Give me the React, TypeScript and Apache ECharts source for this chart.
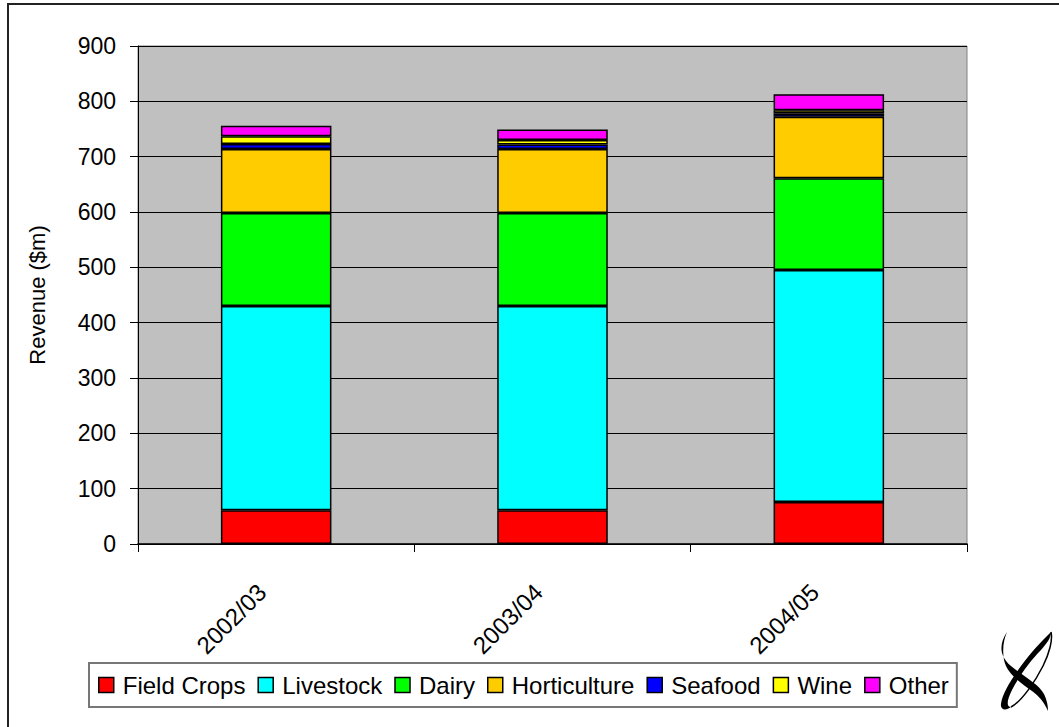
import React, { useEffect, useRef } from "react";
import * as echarts from "echarts";

const categories = ["2002/03", "2003/04", "2004/05"];
const fieldCrops = [61, 61, 76];
const livestock = [369, 369, 419];
const dairy = [168, 168, 166];
const horticulture = [116, 116, 111];
const seafood = [9, 8, 6];
const wine = [14, 8, 6];
const other = [19, 19, 29];

const seriesNames = ["Field Crops", "Livestock", "Dairy", "Horticulture", "Seafood", "Wine", "Other"];
const seriesValues = [fieldCrops, livestock, dairy, horticulture, seafood, wine, other];
const seriesColors = ["#ff0000", "#00ffff", "#00ff00", "#ffcc00", "#0000ff", "#ffff00", "#ff00ff"];

const FONT = "'Liberation Sans', Arial, sans-serif";

let registered = false;
function registerLogo() {
  if (registered) return;
  registered = true;
  echarts.graphic.registerShape(
    "logoA",
    echarts.graphic.extendPath(
      "M8,2 C0,14 0,26 12,36 C24,46 40,54 45,64 C48,70 49,76 49,81 C45,72 40,66 33,61 C22,53 8,44 5,30 C3,18 5,9 8,2 Z",
      {}
    )
  );
  echarts.graphic.registerShape(
    "logoB",
    echarts.graphic.extendPath(
      "M52,2 C42,12 32,22 22,36 C12,50 3,64 2,74 C1,80 7,81 12,77 C7,77 8,70 13,60 C20,46 32,30 42,20 C48,13 52,8 52,2 Z",
      {}
    )
  );
  echarts.graphic.registerShape(
    "logoC",
    echarts.graphic.extendPath("M12,77 C22,72 36,52 44,36 C50,24 54,10 52,2", {})
  );
}

export default function App() {
  const ref = useRef<HTMLDivElement>(null);
  useEffect(() => {
    if (!ref.current) return;
    registerLogo();
    const chart = echarts.init(ref.current, undefined, { renderer: "svg" });
    chart.setOption({
      animation: false,
      backgroundColor: "#ffffff",
      textStyle: { fontFamily: FONT },
      grid: {
        left: 138,
        right: 92,
        top: 46,
        bottom: 183,
        show: true,
        backgroundColor: "#c0c0c0",
        borderColor: "#808080",
        borderWidth: 1,
      },
      legend: {
        left: 89,
        top: 663,
        orient: "horizontal",
        itemWidth: 15,
        itemHeight: 15,
        itemGap: 12,
        padding: [10, 8, 10, 9],
        borderColor: "#777777",
        borderWidth: 2,
        icon: "rect",
        data: seriesNames,
        textStyle: {
          fontSize: 24,
          color: "#000",
          fontFamily: FONT,
          padding: [0, 0, 0, 4],
        },
        itemStyle: { borderColor: "#000", borderWidth: 1.5 },
      },
      xAxis: {
        type: "category",
        data: categories,
        boundaryGap: true,
        axisLine: { show: true, lineStyle: { color: "#000", width: 1.5 } },
        axisTick: { show: true, length: 8, lineStyle: { color: "#000" } },
        axisLabel: {
          rotate: 45,
          fontSize: 24,
          color: "#000",
          margin: 30,
          padding: [0, 20, 0, 0],
          fontFamily: FONT,
        },
        splitLine: { show: false },
      },
      yAxis: {
        type: "value",
        min: 0,
        max: 900,
        interval: 100,
        name: "Revenue ($m)",
        nameLocation: "middle",
        nameGap: 90,
        nameTextStyle: { fontSize: 22, color: "#000", fontFamily: FONT },
        axisLine: { show: true, lineStyle: { color: "#000", width: 1 } },
        axisTick: { show: true, length: 8, lineStyle: { color: "#000" } },
        axisLabel: { fontSize: 23, color: "#000", margin: 22, fontFamily: FONT },
        splitLine: { show: true, lineStyle: { color: "#000", width: 1 } },
      },
      series: seriesNames.map((name, i) => ({
        name,
        type: "bar",
        stack: "total",
        barWidth: "40%",
        data: seriesValues[i],
        itemStyle: { color: seriesColors[i], borderColor: "#000", borderWidth: 1.5 },
      })),
      graphic: [
        {
          type: "rect",
          shape: { x: 8, y: 4, width: 1200, height: 900 },
          style: { fill: "none", stroke: "#222", lineWidth: 2 },
          silent: true,
        },
        {
          type: "group",
          x: 999,
          y: 630,
          children: [
            { type: "logoA", style: { fill: "#000" } },
            { type: "logoB", style: { fill: "#000" } },
            { type: "logoC", style: { fill: "none", stroke: "#000", lineWidth: 1.5 } },
          ],
        },
      ],
    });
    return () => chart.dispose();
  }, []);
  return (
    <div
      ref={ref}
      style={{ position: "absolute", left: 0, top: 0, width: 1059, height: 727 }}
    />
  );
}
